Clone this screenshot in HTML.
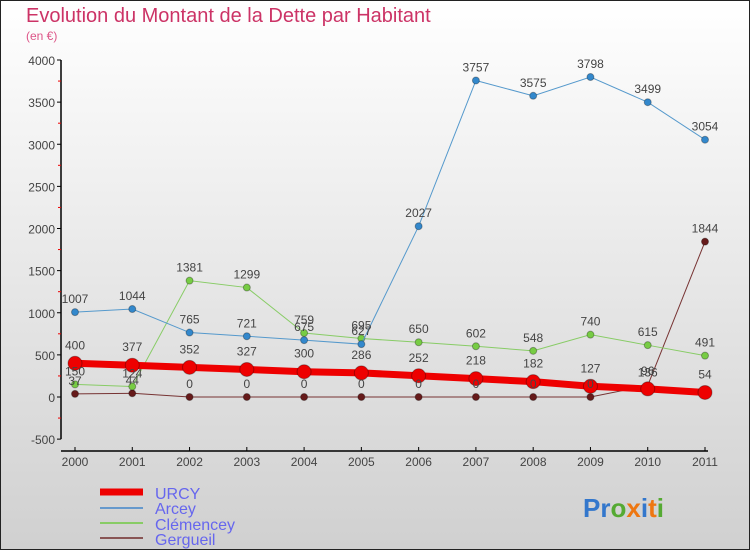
<!DOCTYPE html>
<html><head><meta charset="utf-8"><style>
body{margin:0;padding:0;}
svg{display:block;font-family:"Liberation Sans",sans-serif;}
</style></head><body>
<svg id="chart" width="750" height="550">
<defs><linearGradient id="bg" x1="0" y1="0" x2="0" y2="1"><stop offset="0" stop-color="#ffffff"/><stop offset="1" stop-color="#d0d0d0"/></linearGradient></defs>
<rect x="0.5" y="0.5" width="749" height="549" fill="url(#bg)" stroke="#222"/>
<text x="26" y="22" font-size="20" fill="#cc3366">Evolution du Montant de la Dette par Habitant</text>
<text x="26" y="40" font-size="12" fill="#dd5588">(en €)</text>
<g id="axes"></g><g id="series"></g><g id="labels"></g>
<g>
<g><line x1="100" y1="492" x2="143" y2="492" stroke="#ee0000" stroke-width="7"/><text x="155" y="499" font-size="16" fill="#6666ee">URCY</text></g>
<g><line x1="100" y1="508" x2="143" y2="508" stroke="#6699cc" stroke-width="2"/><text x="155" y="514" font-size="16" fill="#6666ee">Arcey</text></g>
<g><line x1="100" y1="523" x2="143" y2="523" stroke="#88cc66" stroke-width="2"/><text x="155" y="530" font-size="16" fill="#6666ee">Clémencey</text></g>
<g><line x1="100" y1="538" x2="143" y2="538" stroke="#885555" stroke-width="2"/><text x="155" y="545" font-size="16" fill="#6666ee">Gergueil</text></g>
</g>
<text x="583" y="517" font-size="26" font-weight="bold"><tspan fill="#3377cc">Pr</tspan><tspan fill="#55aa33">o</tspan><tspan fill="#ee7711">x</tspan><tspan fill="#3377cc">i</tspan><tspan fill="#ee7711">t</tspan><tspan fill="#55aa33">i</tspan></text>
</svg>
<script>
const years=["2000","2001","2002","2003","2004","2005","2006","2007","2008","2009","2010","2011"];
const urcy=[400,377,352,327,300,286,252,218,182,127,96,54];
const arcey=[1007,1044,765,721,675,627,2027,3757,3575,3798,3499,3054];
const clemencey=[150,124,1381,1299,759,695,650,602,548,740,615,491];
const gergueil=[37,44,0,0,0,0,0,0,0,0,136,1844];
const yTicks=[-500,0,500,1000,1500,2000,2500,3000,3500,4000];
const NS="http://www.w3.org/2000/svg";
function xs(i){return 75+i*(630/11);}
function ys(v){return 397-v*(337/4000);}
function mk(tag,attrs,parent){const e=document.createElementNS(NS,tag);for(const k in attrs)e.setAttribute(k,attrs[k]);parent.appendChild(e);return e;}
const axes=document.getElementById('axes'),ser=document.getElementById('series'),lab=document.getElementById('labels');
let a=mk('line',{x1:61,y1:ys(4000),x2:61,y2:ys(-500),stroke:'#000','stroke-width':1.5},axes);


a=mk('line',{x1:61,y1:451,x2:708,y2:451,stroke:'#000','stroke-width':1.5},axes);


yTicks.forEach(v=>{
 mk('line',{x1:57,y1:ys(v),x2:61,y2:ys(v),stroke:'#000'},axes);
 if(v<4000)mk('line',{x1:58,y1:ys(v+250),x2:61,y2:ys(v+250),stroke:'#ee0000'},axes);
 const t=mk('text',{x:55,y:ys(v)+5,'font-size':12,'text-anchor':'end',fill:'#444'},axes);
 t.textContent=v;
 
 
});
years.forEach((y,i)=>{
 mk('line',{x1:xs(i),y1:447,x2:xs(i),y2:451,stroke:'#000'},axes);
 const t=mk('text',{x:xs(i),y:466,'font-size':12,'text-anchor':'middle',fill:'#444'},axes);
 t.textContent=y;
 
 
});
function series(data,name,color,w,r,dot,off){
 const g=mk('g',{},ser);
 
 
 const p=mk('polyline',{points:data.map((v,i)=>xs(i)+','+ys(v)).join(' '),fill:'none',stroke:color,'stroke-width':w},g);
 
 
 data.forEach((v,i)=>{
  const c=mk('circle',{cx:xs(i),cy:ys(v),r:r,fill:dot,stroke:'rgba(0,0,0,0.3)'},g);
  
  
  const t=mk('text',{x:xs(i),y:ys(v)-off,'font-size':12,'text-anchor':'middle',fill:'#444'},lab);
  t.textContent=v;
  
  
 });
}
series(gergueil,'gergueil','#773333',1,3.5,'#661a1a',9);
series(clemencey,'clemencey','#88cc66',1,3.5,'#77cc44',9);
series(arcey,'arcey','#5599cc',1,3.5,'#3388cc',9);
series(urcy,'urcy','#ee0000',7,7,'#ee0000',14);
</script>
</body></html>
